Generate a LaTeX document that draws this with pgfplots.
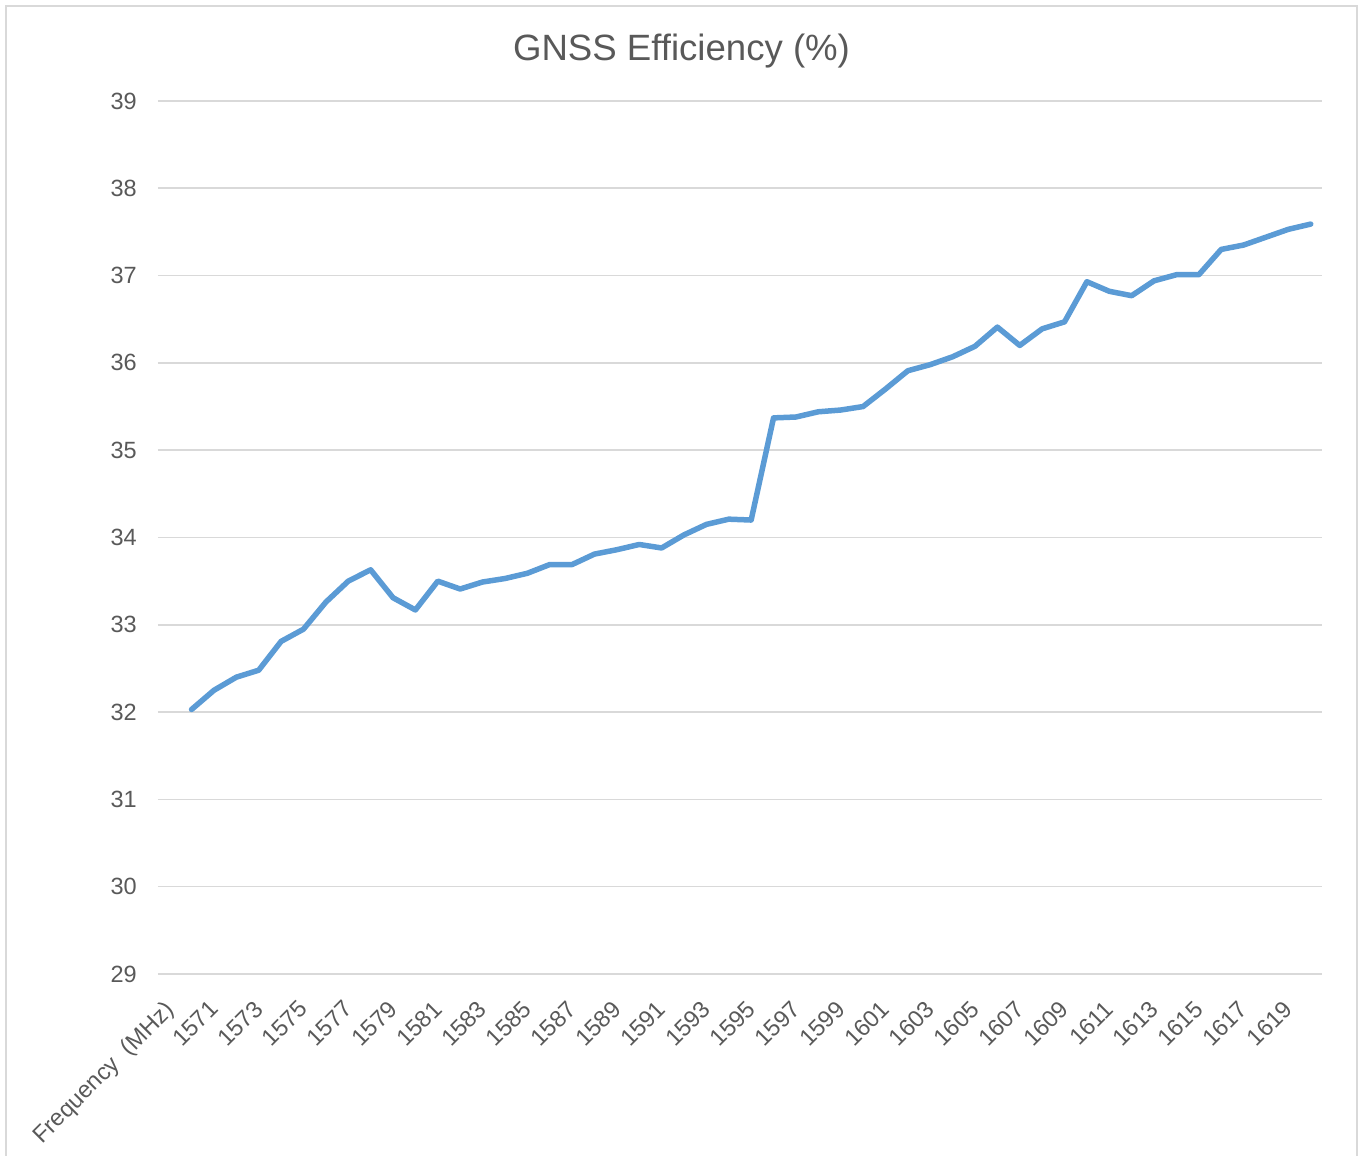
\documentclass[border=0pt]{standalone}
\usepackage{pgfplots}
\pgfplotsset{compat=1.18}
\usepackage{fontspec}
\setmainfont{Liberation Sans}
\definecolor{linecol}{HTML}{5B9BD5}
\definecolor{gridcol}{HTML}{D9D9D9}
\definecolor{txtcol}{HTML}{595959}
\begin{document}
\begin{tikzpicture}
\path[use as bounding box] (-158pt,-182pt) rectangle (1205pt,974pt);
\draw[gridcol, line width=2pt] (-152pt,-220pt) rectangle (1199pt,968pt);
\begin{axis}[
  at={(0pt,0pt)}, anchor=south west,
  scale only axis, width=1164pt, height=873pt,
  xmin=-0.5, xmax=51.5, ymin=29, ymax=39,
  ytick={29,30,...,39},
  xtick={0,2,...,50},
  xticklabels={Frequency\ \ (MHz),1571,1573,1575,1577,1579,1581,1583,1585,1587,1589,1591,1593,1595,1597,1599,1601,1603,1605,1607,1609,1611,1613,1615,1617,1619},
  axis line style={draw=none},
  tick style={draw=none},
  ymajorgrids,
  grid style={gridcol, line width=1.6pt},
  /pgf/number format/assume math mode=true,
  tick label style={font=\fontsize{23.5}{28}\selectfont, text=txtcol},
  yticklabel style={inner sep=0pt, anchor=east, xshift=-21pt},
  xticklabel style={inner sep=0pt, anchor=north east, xshift=-6pt, yshift=-25pt, rotate=45},
]
\addplot[linecol, line width=5.5pt, line join=round, line cap=round] table[x expr=\thisrow{f}-1569, y=eff] {
f eff
1570 32.03
1571 32.25
1572 32.40
1573 32.48
1574 32.81
1575 32.95
1576 33.26
1577 33.50
1578 33.63
1579 33.31
1580 33.17
1581 33.50
1582 33.41
1583 33.49
1584 33.53
1585 33.59
1586 33.69
1587 33.69
1588 33.81
1589 33.86
1590 33.92
1591 33.88
1592 34.03
1593 34.15
1594 34.21
1595 34.20
1596 35.37
1597 35.38
1598 35.44
1599 35.46
1600 35.50
1601 35.70
1602 35.91
1603 35.98
1604 36.07
1605 36.19
1606 36.41
1607 36.20
1608 36.39
1609 36.47
1610 36.93
1611 36.82
1612 36.77
1613 36.94
1614 37.01
1615 37.01
1616 37.30
1617 37.35
1618 37.44
1619 37.53
1620 37.59
};
\end{axis}
\node[anchor=base, text=txtcol, font=\fontsize{36.6}{44}\selectfont, inner sep=0pt] at (523.5pt,913pt) {GNSS Efficiency (\%)};
\end{tikzpicture}
\end{document}
